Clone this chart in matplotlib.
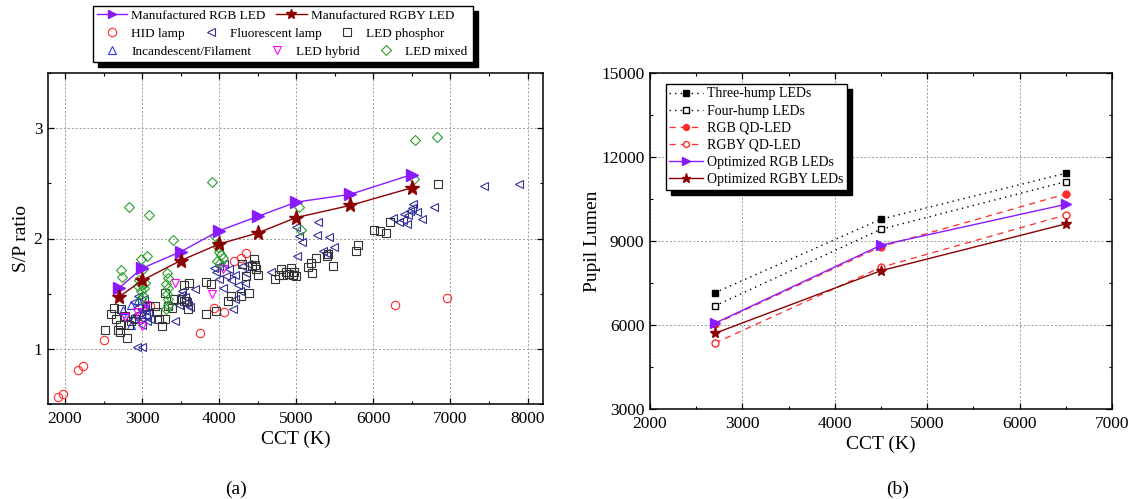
import matplotlib.pyplot as plt
from matplotlib.patches import Rectangle
from matplotlib.ticker import MultipleLocator

plt.rcParams['font.family'] = 'serif'
plt.rcParams['font.serif'] = ['Liberation Serif', 'DejaVu Serif']

# ---------------- (a) S/P ratio versus CCT ----------------
rgb_cct = [2700, 3000, 3500, 4000, 4500, 5000, 5700, 6500]
rgb_sp = [1.55, 1.73, 1.88, 2.07, 2.20, 2.33, 2.40, 2.58]
rgby_cct = [2700, 3000, 3500, 4000, 4500, 5000, 5700, 6500]
rgby_sp = [1.47, 1.62, 1.80, 1.95, 2.05, 2.19, 2.30, 2.46]

hid_cct = [1910, 1970, 2170, 2230, 2500, 2950, 3100, 3750, 3930, 4060, 4190, 4280, 4350, 6280, 6950]
hid_sp = [0.56, 0.59, 0.81, 0.84, 1.08, 1.30, 1.39, 1.14, 1.37, 1.33, 1.80, 1.82, 1.87, 1.40, 1.46]

fluo_cct = [2930, 3000, 2900, 2950, 3000, 3050, 2980, 3060, 2920, 3020, 3080, 3000, 3100, 2950, 3040,
            3430, 3480, 3500, 3600, 3690, 3560, 3520, 3580, 3620,
            3930, 4000, 4060, 4130, 4090, 4000, 4210, 4240, 4300, 4370, 4350, 4180, 3960, 4150, 4270,
            4050, 4200, 4330, 4670,
            5000, 5040, 5080, 5010, 5280, 5270, 5420, 5350, 5390, 5490,
            6260, 6330, 6390, 6450, 6480, 6520, 6560, 6630, 6500, 6400, 6440, 6780, 7430, 7890]
fluo_sp = [1.02, 1.02, 1.42, 1.38, 1.35, 1.30, 1.28, 1.25, 1.31, 1.45, 1.33, 1.22, 1.27, 1.48, 1.40,
           1.25, 1.40, 1.49, 1.40, 1.54, 1.47, 1.52, 1.42, 1.38,
           1.73, 1.75, 1.77, 1.72, 1.66, 1.63, 1.67, 1.58, 1.75, 1.77, 1.69, 1.36, 1.70, 1.62, 1.52,
           1.55, 1.45, 1.60, 1.70,
           2.10, 2.02, 1.97, 1.84, 2.15, 2.03, 2.01, 1.89, 1.87, 1.92,
           2.19, 2.15, 2.17, 2.21, 2.25, 2.31, 2.24, 2.18, 2.28, 2.22, 2.13, 2.29, 2.48, 2.49]

phos_cct = [2520, 2630, 2730, 2660, 2720, 2690, 2720, 2800, 2830, 2910, 2780, 2860, 2600,
            3070, 3170, 3200, 3220, 3300, 3260, 3300, 3330, 3390, 3510, 3540, 3540, 3420,
            3610, 3830, 3900, 3570, 3600, 3830, 3960, 4110, 4150, 4280, 4390, 4350, 4450, 4480,
            4500, 4300, 4420, 4470,
            4720, 4780, 4800, 4830, 4870, 4910, 4960, 4970, 5000, 4930,
            5150, 5190, 5200, 5250, 5470, 5410, 5400, 5770, 5800, 6010, 6090, 6160, 6220, 6840]
phos_sp = [1.17, 1.37, 1.36, 1.27, 1.22, 1.17, 1.15, 1.10, 1.22, 1.27, 1.30, 1.25, 1.32,
           1.39, 1.39, 1.33, 1.27, 1.27, 1.21, 1.51, 1.39, 1.37, 1.45, 1.43, 1.58, 1.45,
           1.60, 1.61, 1.59, 1.43, 1.36, 1.32, 1.34, 1.43, 1.48, 1.48, 1.51, 1.66, 1.81, 1.72,
           1.67, 1.77, 1.75, 1.76,
           1.63, 1.67, 1.72, 1.67, 1.70, 1.68, 1.67, 1.70, 1.66, 1.73,
           1.74, 1.78, 1.69, 1.82, 1.75, 1.86, 1.84, 1.89, 1.94, 2.08, 2.07, 2.05, 2.15, 2.49]

inc_cct = [2750, 2800, 2850, 2900, 2950, 3000, 2850, 3050]
inc_sp = [1.35, 1.30, 1.40, 1.28, 1.44, 1.32, 1.22, 1.38]

hyb_cct = [2780, 2940, 3000, 3430, 3910, 4050, 3050]
hyb_sp = [1.29, 1.33, 1.21, 1.60, 1.50, 1.72, 1.40]

mix_cct = [2830, 3090, 3910, 3400, 2730, 2740, 2980, 3060, 3010,
           2960, 3000, 3020, 2980, 3010, 2990, 3040, 2950,
           3320, 3340, 3310, 3330, 3320, 3340, 3330, 3310,
           3950, 3980, 4000, 4020, 3970, 4010, 3990, 4050,
           5040, 5060, 6540, 6820, 6530]
mix_sp = [2.29, 2.21, 2.51, 1.99, 1.71, 1.65, 1.81, 1.84, 1.72,
          1.62, 1.58, 1.55, 1.52, 1.48, 1.45, 1.60, 1.57,
          1.69, 1.64, 1.59, 1.55, 1.50, 1.45, 1.40, 1.36,
          2.02, 1.95, 1.88, 1.85, 1.80, 1.78, 1.92, 1.82,
          2.29, 2.08, 2.89, 2.92, 2.54]

# ---------------- (b) pupil lumen versus CCT ----------------
cct_b = [2700, 4500, 6500]
three_hump = [7150, 9780, 11420]
four_hump = [6680, 9420, 11120]
rgb_qd = [6030, 8800, 10680]
rgby_qd = [5350, 8060, 9930]
opt_rgb = [6060, 8850, 10310]
opt_rgby = [5700, 7940, 9610]

PURPLE = '#8A1AFF'
DARKRED = '#8B0000'
RED = '#FF2A2A'

W, H = 1130, 499
fig = plt.figure(figsize=(W / 100, H / 100), dpi=100)
ax1 = fig.add_axes([48 / W, 1 - 404 / H, (543 - 48) / W, (404 - 73) / H])
ax2 = fig.add_axes([650 / W, 1 - 409 / H, (1112 - 650) / W, (409 - 73) / H])


def style_axis(ax):
    ax.tick_params(which='both', direction='in', top=True, right=True, labelsize=12.5)
    ax.tick_params(which='major', length=4, width=0.9)
    ax.tick_params(axis='x', which='major', pad=5)
    ax.tick_params(axis='y', which='major', pad=4)
    ax.tick_params(which='minor', length=2.5, width=0.8)
    ax.grid(True, which='major', color='#999999', linestyle=(0, (2, 2)), linewidth=0.7)
    for s in ax.spines.values():
        s.set_linewidth(1.1)


open_kw = dict(linestyle='none', mfc='none', ms=6, mew=0.8)
h_hid, = ax1.plot(hid_cct, hid_sp, marker='o', mec=RED, label='HID lamp', **open_kw)
h_inc, = ax1.plot(inc_cct, inc_sp, marker='^', mec='#3333FF', label='Incandescent/Filament', **open_kw)
h_fl, = ax1.plot(fluo_cct, fluo_sp, marker='<', mec='#30309A', label='Fluorescent lamp', **open_kw)
h_ph, = ax1.plot(phos_cct, phos_sp, marker='s', mec='#333333', label='LED phosphor', **open_kw)
h_hy, = ax1.plot(hyb_cct, hyb_sp, marker='v', mec='#FF00FF', label='LED hybrid', **open_kw)
h_mx, = ax1.plot(mix_cct, mix_sp, marker='D', mec='#2E9E2E', label='LED mixed',
                 linestyle='none', mfc='none', ms=5, mew=0.8)
h_rgb, = ax1.plot(rgb_cct, rgb_sp, color=PURPLE, lw=1, marker='>', ms=8, label='Manufactured RGB LED')
h_rgby, = ax1.plot(rgby_cct, rgby_sp, color=DARKRED, lw=1, marker='*', ms=11, label='Manufactured RGBY LED')

ax1.set_xlim(1780, 8200)
ax1.set_ylim(0.5, 3.5)
ax1.xaxis.set_major_locator(MultipleLocator(1000))
ax1.xaxis.set_minor_locator(MultipleLocator(500))
ax1.yaxis.set_major_locator(MultipleLocator(1))
ax1.yaxis.set_minor_locator(MultipleLocator(0.5))
style_axis(ax1)
ax1.set_xlabel('CCT (K)', fontsize=14, labelpad=3)
ax1.set_ylabel('S/P ratio', fontsize=14, labelpad=3)

ax2.plot(cct_b, three_hump, color='black', lw=1, ls=(0, (1, 3)), marker='s', ms=5,
         label='Three-hump LEDs')
ax2.plot(cct_b, four_hump, color='black', lw=1, ls=(0, (1, 3)), marker='s', ms=5, mfc='white',
         label='Four-hump LEDs')
ax2.plot(cct_b, rgb_qd, color=RED, lw=0.9, ls=(0, (5, 4)), marker='o', ms=5, label='RGB QD-LED')
ax2.plot(cct_b, rgby_qd, color=RED, lw=0.9, ls=(0, (5, 4)), marker='o', ms=5, mfc='white',
         label='RGBY QD-LED')
ax2.plot(cct_b, opt_rgb, color=PURPLE, lw=1, marker='>', ms=7, label='Optimized RGB LEDs')
ax2.plot(cct_b, opt_rgby, color=DARKRED, lw=1, marker='*', ms=8, label='Optimized RGBY LEDs')

ax2.set_xlim(2000, 7000)
ax2.set_ylim(3000, 15000)
ax2.xaxis.set_major_locator(MultipleLocator(1000))
ax2.xaxis.set_minor_locator(MultipleLocator(500))
ax2.yaxis.set_major_locator(MultipleLocator(3000))
ax2.yaxis.set_minor_locator(MultipleLocator(1500))
style_axis(ax2)
ax2.set_xlabel('CCT (K)', fontsize=14, labelpad=3)
ax2.set_ylabel('Pupil Lumen', fontsize=14, labelpad=0)

fig.text(236 / W, 1 - 489 / H, '(a)', fontsize=14, ha='center', va='center')
fig.text(898 / W, 1 - 489 / H, '(b)', fontsize=14, ha='center', va='center')

# legend of (a): three independent rows inside one shadowed frame
leg_kw = dict(loc='center left', frameon=False, fontsize=9.5, borderpad=0, borderaxespad=0,
              handlelength=2.3, handletextpad=0.3, columnspacing=0.8)
rows = [
    fig.legend(handles=[h_rgb, h_rgby], ncol=2, markerscale=0.7,
               bbox_to_anchor=(97 / W, 1 - 16 / H), **leg_kw),
    fig.legend(handles=[h_hid, h_fl, h_ph], ncol=3, bbox_to_anchor=(97 / W, 1 - 34 / H), **leg_kw),
    fig.legend(handles=[h_inc, h_hy, h_mx], ncol=3, bbox_to_anchor=(97 / W, 1 - 52 / H), **leg_kw),
]

leg2 = fig.legend(*ax2.get_legend_handles_labels(), loc='upper left',
                  bbox_to_anchor=(666 / W, 1 - 84 / H), borderaxespad=0, fontsize=10,
                  fancybox=False, edgecolor='black', framealpha=1, borderpad=0.25,
                  labelspacing=0.3, handlelength=2.4, handletextpad=0.3, markerscale=0.85)
leg2.get_frame().set_linewidth(1.0)

fig.canvas.draw()
renderer = fig.canvas.get_renderer()
inv = fig.transFigure.inverted()
dx, dy = 5 / W, 5 / H


def shadow_box(x0, y0, x1, y1, frame):
    (fx0, fy0), (fx1, fy1) = inv.transform([(x0, y0), (x1, y1)])
    fig.add_artist(Rectangle((fx0 + dx, fy0 - dy), fx1 - fx0, fy1 - fy0, transform=fig.transFigure,
                             facecolor='black', edgecolor='black', zorder=4.4))
    if frame:
        fig.add_artist(Rectangle((fx0, fy0), fx1 - fx0, fy1 - fy0, transform=fig.transFigure,
                                 facecolor='white', edgecolor='black', lw=1.0, zorder=4.5))


bbs = [r.get_window_extent(renderer) for r in rows]
shadow_box(min(b.x0 for b in bbs) - 4, min(b.y0 for b in bbs) - 4,
           max(b.x1 for b in bbs) + 6, max(b.y1 for b in bbs) + 4, True)
b2 = leg2.get_window_extent(renderer)
shadow_box(b2.x0, b2.y0, b2.x1, b2.y1, False)

fig.savefig('out.png', dpi=100)
